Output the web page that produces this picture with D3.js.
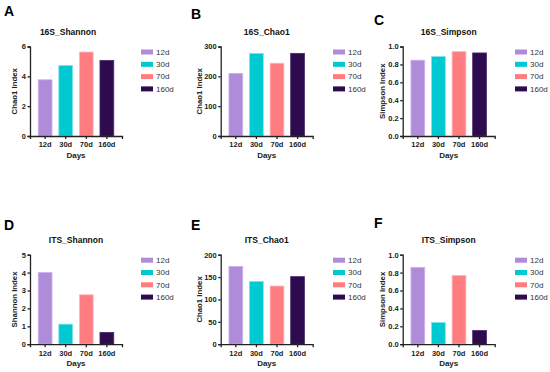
<!DOCTYPE html>
<html>
<head>
<meta charset="utf-8">
<script src="https://cdn.jsdelivr.net/npm/d3@7"></script>
<style>
  body { margin: 0; background: #fff; }
  svg { font-family: Arial, "Liberation Sans", sans-serif; }
  .axis path, .axis line { stroke: #222; stroke-width: 1.3; }
  .axis text { font-size: 7.5px; font-weight: bold; fill: #222; }
</style>
</head>
<body>
<svg id="chart" width="550" height="372"></svg>
<script>
// categories and colours
var days = ['12d', '30d', '70d', '160d'];
var dayColors = ['#b08bd9', '#00c9d1', '#ff7d80', '#2e0b4e'];
var dayStrokes = ['#cdb5ec', '#7fe3e8', '#ffb8b9', '#4a2a6a'];

// series values
var shannon16S = [3.77, 4.73, 5.63, 5.07];
var chao16S = [210, 277, 244, 277];
var simpson16S = [0.847, 0.888, 0.944, 0.928];
var shannonITS = [4.01, 1.12, 2.76, 0.66];
var chaoITS = [174, 140, 130, 151];
var simpsonITS = [0.859, 0.243, 0.769, 0.153];

// tick labels
var ticksShannon16S = [0, 2, 4, 6];
var ticksChao16S = [0, 100, 200, 300];
var ticksSimpson = [0, 0.2, 0.4, 0.6, 0.8, 1.0];
var ticksShannonITS = [0, 1, 2, 3, 4, 5];
var ticksChaoITS = [0, 50, 100, 150, 200];

var panels = [
  { letter: 'A', title: '16S_Shannon', ylab: 'Chao1 Index', values: shannon16S, ticks: ticksShannon16S, fmt: d3.format('d'),
    x: 30, y: 46.5, lx: 4, ly: 16, tdx: -8, labx: 14.5, legx: 141 },
  { letter: 'B', title: '16S_Chao1', ylab: 'Chao1 Index', values: chao16S, ticks: ticksChao16S, fmt: d3.format('d'),
    x: 220.7, y: 46.5, lx: 191, ly: 19, tdx: 0, labx: 199, legx: 333 },
  { letter: 'C', title: '16S_Simpson', ylab: 'Simpson Index', values: simpson16S, ticks: ticksSimpson, fmt: d3.format('.1f'),
    x: 402.7, y: 46.5, lx: 374, ly: 25, tdx: 0, labx: 382, legx: 515 },
  { letter: 'D', title: 'ITS_Shannon', ylab: 'Shannon Index', values: shannonITS, ticks: ticksShannonITS, fmt: d3.format('d'),
    x: 30, y: 254.7, lx: 4, ly: 230, tdx: 0, labx: 14.5, legx: 141 },
  { letter: 'E', title: 'ITS_Chao1', ylab: 'Chao1 Index', values: chaoITS, ticks: ticksChaoITS, fmt: d3.format('d'),
    x: 220.7, y: 254.7, lx: 191, ly: 230, tdx: 0, labx: 199, legx: 333 },
  { letter: 'F', title: 'ITS_Simpson', ylab: 'Simpson Index', values: simpsonITS, ticks: ticksSimpson, fmt: d3.format('.1f'),
    x: 402.7, y: 254.7, lx: 374, ly: 228, tdx: 0, labx: 382, legx: 515 }
];

var plotW = 92;
var plotH = 89.5;
var svg = d3.select('#chart');

panels.forEach(function (p) {
  drawPanel(p);
});

function drawPanel(p) {
  var g = svg.append('g')
    .attr('transform', `translate(${p.x}, ${p.y})`);

  var xScale = d3.scaleBand()
    .domain(days)
    .range([0, plotW])
    .paddingInner(0.33)
    .paddingOuter(0.4);

  var yMax = p.ticks[p.ticks.length - 1];
  var yScale = d3.scaleLinear()
    .domain([0, yMax])
    .range([plotH, 0]);

  g.selectAll('.bar')
    .data(p.values)
    .enter()
    .append('rect')
    .attr('x', (d, i) => xScale(days[i]))
    .attr('y', d => yScale(d))
    .attr('width', xScale.bandwidth())
    .attr('height', d => plotH - yScale(d))
    .style('fill', (d, i) => dayColors[i])
    .style('stroke', (d, i) => dayStrokes[i])
    .style('stroke-width', 0.8);

  var yAxis = d3.axisLeft(yScale)
    .tickValues(p.ticks)
    .tickFormat(p.fmt)
    .tickSizeOuter(0)
    .tickSize(2.5)
    .tickPadding(1.5);
  g.append('g').attr('class', 'axis').call(yAxis);

  var xAxis = d3.axisBottom(xScale)
    .tickSizeOuter(0)
    .tickSize(3)
    .tickPadding(3);
  g.append('g').attr('class', 'axis')
    .attr('transform', `translate(0, ${plotH})`)
    .call(xAxis);

  // axis titles
  g.append('text')
    .attr('x', plotW / 2)
    .attr('y', plotH + 22)
    .style('text-anchor', 'middle')
    .style('font-size', '8px')
    .style('font-weight', 'bold')
    .style('fill', '#222')
    .text('Days');

  svg.append('text')
    .attr('transform', `translate(${p.labx}, ${p.y + plotH / 2}) rotate(-90)`)
    .attr('dy', '0.35em')
    .style('text-anchor', 'middle')
    .style('font-size', '7.8px')
    .style('font-weight', 'bold')
    .style('fill', '#222')
    .text(p.ylab);

  // panel title
  g.append('text')
    .attr('x', plotW / 2 + p.tdx)
    .attr('y', -12)
    .style('text-anchor', 'middle')
    .style('font-size', '8.5px')
    .style('font-weight', 'bold')
    .style('fill', '#111')
    .text(p.title);

  // panel letter
  svg.append('text')
    .attr('x', p.lx)
    .attr('y', p.ly)
    .style('font-size', '14px')
    .style('font-weight', 'bold')
    .style('fill', '#000')
    .text(p.letter);

  // legend
  var leg = svg.append('g')
    .attr('transform', `translate(${p.legx}, ${p.y + 5.5})`);
  days.forEach(function (d, i) {
    leg.append('rect')
      .attr('x', 0)
      .attr('y', i * 12.3 - 2.5)
      .attr('width', 12)
      .attr('height', 5)
      .style('fill', dayColors[i]);
    leg.append('text')
      .attr('x', 15)
      .attr('y', i * 12.3)
      .attr('dy', '0.35em')
      .style('font-size', '8px')
      .style('fill', '#333')
      .text(d);
  });
}
</script>
</body>
</html>
